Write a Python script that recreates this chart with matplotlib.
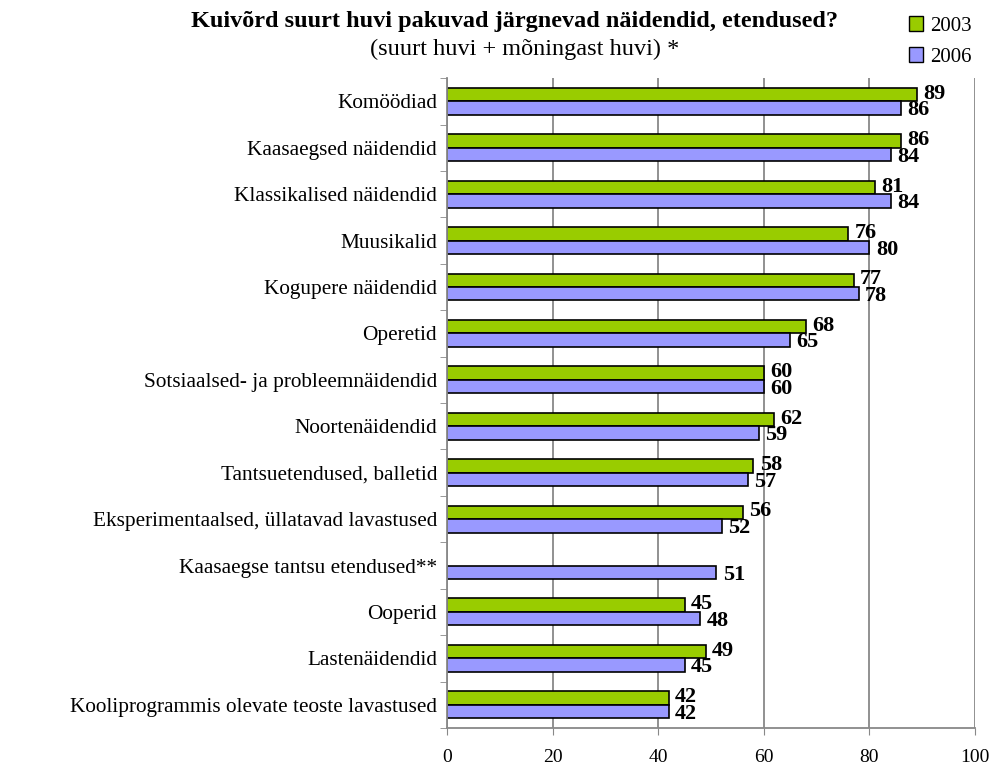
import numpy as np
import matplotlib.pyplot as plt
from matplotlib.patches import Patch

plt.rcParams['font.family'] = ['Liberation Serif', 'DejaVu Serif']

categories = [
    "Komöödiad",
    "Kaasaegsed näidendid",
    "Klassikalised näidendid",
    "Muusikalid",
    "Kogupere näidendid",
    "Operetid",
    "Sotsiaalsed- ja probleemnäidendid",
    "Noortenäidendid",
    "Tantsuetendused, balletid",
    "Eksperimentaalsed, üllatavad lavastused",
    "Kaasaegse tantsu etendused**",
    "Ooperid",
    "Lastenäidendid",
    "Kooliprogrammis olevate teoste lavastused",
]
values_2003 = [89, 86, 81, 76, 77, 68, 60, 62, 58, 56, None, 45, 49, 42]
values_2006 = [86, 84, 84, 80, 78, 65, 60, 59, 57, 52, 51, 48, 45, 42]

c2003 = "#99CC00"
c2006 = "#9999FF"

fig = plt.figure(figsize=(9.93, 7.66), dpi=100)
ax = fig.add_axes([0.450, 0.0496, 0.532, 0.8484])

n = len(categories)
y = np.arange(n)
h = 0.29

for i, (a, b) in enumerate(zip(values_2003, values_2006)):
    if a is not None:
        ax.barh(i - h / 2, a, height=h, color=c2003, edgecolor="black", linewidth=1.2)
        ax.text(a + 1.2, i - h / 2 - 0.02, str(a), ha="left", va="center",
                fontsize=16, fontweight="bold")
    ax.barh(i + h / 2, b, height=h, color=c2006, edgecolor="black", linewidth=1.2)
    ax.text(b + 1.2, i + h / 2 + 0.05, str(b), ha="left", va="center",
            fontsize=16, fontweight="bold")

ax.set_xlim(0, 100)
ax.set_ylim(n - 0.5, -0.5)
ax.set_xticks(range(0, 101, 20))
ax.tick_params(axis="x", labelsize=14, length=5, color="#888888", pad=10)
ax.set_yticks(y)
ax.set_yticklabels(categories, fontsize=15.3)
ax.set_yticks(np.arange(n + 1) - 0.5, minor=True)
ax.tick_params(axis="y", which="major", length=0, pad=7)
ax.tick_params(axis="y", which="minor", length=5, color="#888888")

ax.grid(axis="x", color="#888888", linewidth=1.3)
ax.set_axisbelow(True)
for s in ["top", "right"]:
    ax.spines[s].set_visible(False)
ax.spines["left"].set_color("#888888")
ax.spines["bottom"].set_color("#888888")
ax.spines["left"].set_linewidth(1.3)
ax.spines["bottom"].set_linewidth(1.3)

fig.text(0.518, 0.972, "Kuivõrd suurt huvi pakuvad järgnevad näidendid, etendused?",
         ha="center", va="center", fontsize=17.5, fontweight="bold")
fig.text(0.528, 0.936, "(suurt huvi + mõningast huvi) *",
         ha="center", va="center", fontsize=17.5)

handles = [Patch(facecolor=c2003, edgecolor="black", label="2003"),
           Patch(facecolor=c2006, edgecolor="black", label="2006")]
fig.legend(handles=handles, loc="upper right", bbox_to_anchor=(0.997, 1.003),
           frameon=False, fontsize=15, handlelength=0.7, handleheight=0.7,
           handletextpad=0.3, labelspacing=0.55)

fig.savefig("out.png", dpi=100)
